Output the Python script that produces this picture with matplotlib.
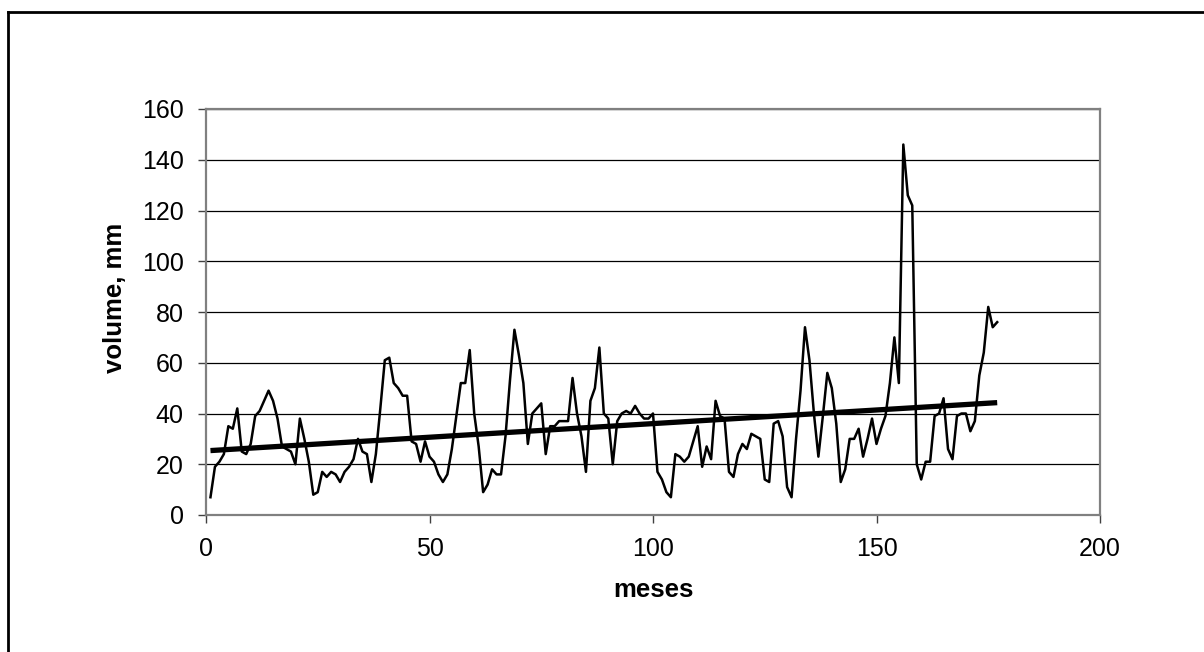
import numpy as np
import matplotlib
matplotlib.use("Agg")
import matplotlib.pyplot as plt
from matplotlib.lines import Line2D

plt.rcParams['font.family'] = ['Liberation Sans', 'DejaVu Sans']

## monthly volume (months 1..177)
volume = [7, 19, 21, 24, 35, 34, 42, 25, 24, 28,
          39, 41, 45, 49, 45, 38, 27, 26, 25, 20,
          38, 30, 21, 8, 9, 17, 15, 17, 16, 13,
          17, 19, 22, 30, 25, 24, 13, 24, 42, 61,
          62, 52, 50, 47, 47, 29, 28, 21, 29, 23,
          21, 16, 13, 16, 26, 39, 52, 52, 65, 40,
          27, 9, 12, 18, 16, 16, 31, 53, 73, 63,
          52, 28, 40, 42, 44, 24, 35, 35, 37, 37,
          37, 54, 40, 31, 17, 45, 50, 66, 40, 38,
          20, 37, 40, 41, 40, 43, 40, 38, 38, 40,
          17, 14, 9, 7, 24, 23, 21, 23, 29, 35,
          19, 27, 22, 45, 39, 38, 17, 15, 24, 28,
          26, 32, 31, 30, 14, 13, 36, 37, 31, 11,
          7, 30, 49, 74, 61, 40, 23, 39, 56, 50,
          36, 13, 18, 30, 30, 34, 23, 30, 38, 28,
          34, 39, 52, 70, 52, 146, 126, 122, 20, 14,
          21, 21, 39, 40, 46, 26, 22, 39, 40, 40,
          33, 37, 55, 64, 82, 74, 76]
months = np.arange(1, len(volume) + 1)

## linear trend line (like the spreadsheet trendline)
coef = np.polyfit(months, volume, 1)
trend = np.polyval(coef, months)

fig = plt.figure(figsize=(12.04, 6.52), dpi=100)
ax = fig.add_axes([206/1204, 1 - 515/652, 894/1204, 406/652])

ax.plot(months, volume, color='black', lw=1.8, solid_joinstyle='round', zorder=3)
ax.plot(months, trend, color='black', lw=3.8, solid_capstyle='butt', zorder=4)

ax.set_xlim(0, 200)
ax.set_ylim(0, 160)
ax.set_xticks([0, 50, 100, 150, 200])
ax.set_yticks(range(0, 161, 20))
ax.grid(axis='y', color='black', lw=0.9)
ax.set_axisbelow(True)

for s in ax.spines.values():
    s.set_color('#808080')
    s.set_linewidth(1.6)

ax.tick_params(direction='out', length=6, width=1, color='#404040',
               labelsize=18, pad=10)

ax.set_xlabel('meses', fontsize=18.5, fontweight='bold', labelpad=12)
fig.text(115/1204, 1 - 298/652, 'volume, mm', rotation=90, fontsize=18.5,
         fontweight='bold', ha='center', va='center')

## outer frame (left and top only visible)
fig.add_artist(Line2D([8/1204, 8/1204], [0, 1 - 12/652], color='black', lw=2))
fig.add_artist(Line2D([8/1204, 1], [1 - 12/652, 1 - 12/652], color='black', lw=2))

plt.savefig('out.png', dpi=100)
